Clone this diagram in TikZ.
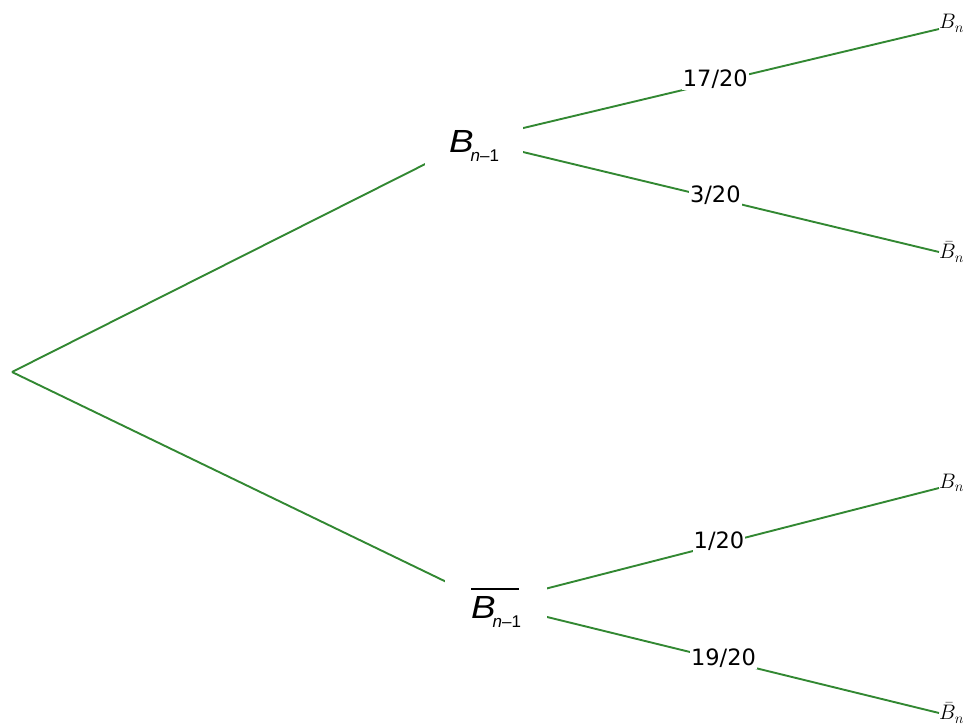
\documentclass[tikz,border=0pt]{standalone}
\usepackage{fix-cm}
\usepackage{fontspec}
\setmainfont{Liberation Sans}
\newfontfamily\probfont{DejaVu Sans}
\usetikzlibrary{backgrounds}

\definecolor{treegreen}{RGB}{50,136,50}
\newcommand{\Bprev}{\scalebox{1.15}[1]{\itshape B}\kern-3pt\raisebox{-9pt}{\fontsize{17}{17}\selectfont\itshape n\upshape–1}}
\newcommand{\Bprevbar}{\makebox[0pt][l]{\raisebox{29pt}{\rule{48pt}{1.2pt}}}\Bprev}

\begin{document}
\begin{tikzpicture}[x=1pt,y=-1pt,
    branch/.style={draw=treegreen,line width=1.9pt},
    event/.style={fill=white,inner sep=0pt,minimum width=98pt,minimum height=68pt,font=\fontsize{32}{32}\selectfont},
    prob/.style={fill=white,inner sep=1pt,font=\probfont\fontsize{22.5}{22.5}\selectfont},
    leaf/.style={inner sep=0pt,font=\fontsize{21}{21}\selectfont}]
        \useasboundingbox (0,0) rectangle (963,725);
        \clip (0,0) rectangle (963,725);

        % branch points
        \coordinate (root) at (12,372);
        \coordinate (up) at (473,140);
        \coordinate (dn) at (490,603);

        % events
        \node[event] (B) at (474,146) {\Bprev};
        \node[event,minimum width=102pt,minimum height=64pt] (Bbar) at (496,608) {\Bprevbar};

        % leaves
        \node[leaf,anchor=base west] (L1) at (939,29) {$B_n$};
        \node[leaf,anchor=west] (L2) at (939,252) {$\bar{B}_n$};
        \node[leaf,anchor=base west] (L3) at (939,488) {$B_n$};
        \node[leaf,anchor=west] (L4) at (939,713) {$\bar{B}_n$};

        \begin{pgfonlayer}{background}
        \draw[branch] (root) -- (up);
        \draw[branch] (root) -- (dn);
        \draw[branch] (up) -- node[prob,pos=.52,yshift=3] {17/20} (L1.base west);
        \draw[branch] (up) -- node[prob,pos=.52,yshift=3] {3/20} (L2.west);
        \draw[branch] (dn) -- node[prob,pos=.51,yshift=3] {1/20} (L3.base west);
        \draw[branch] (dn) -- node[prob,pos=.52,yshift=2] {19/20} (L4.west);
        \end{pgfonlayer}
\end{tikzpicture}
\end{document}
